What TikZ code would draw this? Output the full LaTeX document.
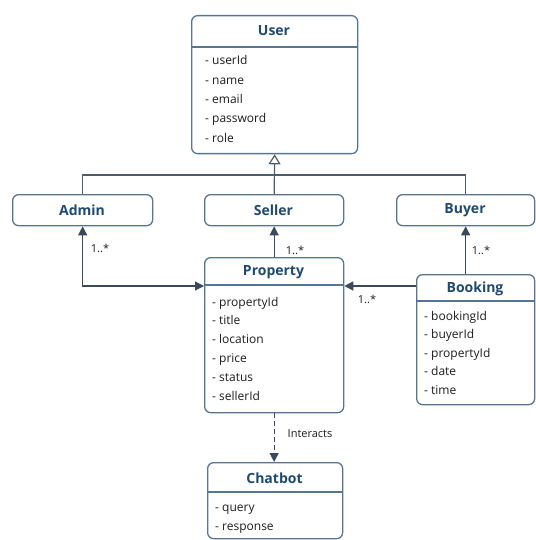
\documentclass[tikz,border=0pt]{standalone}
\usepackage{fontspec}
\setmainfont{Open Sans}
\usetikzlibrary{arrows.meta}
\definecolor{boxc}{HTML}{587591}
\definecolor{titlec}{HTML}{1F4A74}
\definecolor{arrc}{HTML}{3A4A5C}
\definecolor{txtc}{HTML}{1E1E1E}
\tikzset{
  cls/.style={draw=boxc, line width=1.3pt, rounded corners=6pt, fill=white, inner sep=0pt, anchor=north west},
  hline/.style={draw=boxc, line width=1.3pt},
  ttl/.style={font=\fontsize{14}{16}\selectfont\bfseries, text=titlec, inner sep=0pt},
  attr/.style={font=\fontsize{12}{14}\selectfont, text=txtc, anchor=base west, inner sep=0pt},
  lbl/.style={font=\fontsize{11}{13}\selectfont, text=txtc, inner sep=0pt},
  assoc/.style={draw=arrc, line width=1.3pt, -{Triangle[width=9pt,length=9pt]}},
  gen/.style={draw=arrc!90, line width=1.2pt},
}
\begin{document}
\begin{tikzpicture}[x=1pt,y=-1pt]
\useasboundingbox[fill=white] (0,0) rectangle (535,540);
% boxes
\node[cls, minimum width=166pt, minimum height=138pt] (user) at (191,15) {};
\node[cls, minimum width=140pt, minimum height=31pt] (admin) at (12,194) {};
\node[cls, minimum width=139pt, minimum height=31pt] (seller) at (204,194) {};
\node[cls, minimum width=138pt, minimum height=31pt] (buyer) at (396,194) {};
\node[cls, minimum width=139pt, minimum height=155pt] (property) at (204,257) {};
\node[cls, minimum width=118pt, minimum height=130pt] (booking) at (416,274) {};
\node[cls, minimum width=135pt, minimum height=76pt] (chatbot) at (207,462) {};
% header lines
\draw[hline] (user.west |- 0,47) -- (user.east |- 0,47);
\draw[hline] (property.west |- 0,285) -- (property.east |- 0,285);
\draw[hline] (booking.west |- 0,301) -- (booking.east |- 0,301);
\draw[hline] (chatbot.west |- 0,492) -- (chatbot.east |- 0,492);
% titles
\node[ttl] (user-t) at (274,31) {User};
\node[ttl] (admin-t) at (82,210) {Admin};
\node[ttl] (seller-t) at (273.5,210) {Seller};
\node[ttl] (buyer-t) at (465,210) {Buyer};
\node[ttl] (property-t) at (273.5,272) {Property};
\node[ttl] (booking-t) at (475,289) {Booking};
\node[ttl] (chatbot-t) at (274.5,478) {Chatbot};
% attributes
\foreach \t [count=\i] in {userId,name,email,password,role}
  \node[attr] (user-a\i) at (205,{65+19.3*(\i-1)}) {- \t};
\foreach \t [count=\i] in {propertyId,title,location,price,status,sellerId}
  \node[attr] (property-a\i) at (212,{306+18.8*(\i-1)}) {- \t};
\foreach \t [count=\i] in {bookingId,buyerId,propertyId,date,time}
  \node[attr] (booking-a\i) at (424,{320+18.5*(\i-1)}) {- \t};
\foreach \t [count=\i] in {query,response}
  \node[attr] (chatbot-a\i) at (215,{511+19*(\i-1)}) {- \t};
% generalization
\draw[gen] (admin.north) -- (admin.north |- 0,175) -- (buyer.north |- 0,175) -- (buyer.north);
\draw[gen, -{Triangle[open, fill=white, width=12pt, length=10pt]}] (seller.north) -- (user.south);
% associations
\draw[assoc, {Triangle[width=9pt,length=9pt]}-{Triangle[width=9pt,length=9pt]}] (admin.south) |- (property.west |- 0,286);
\draw[assoc] (property.north) -- (seller.south);
\draw[assoc] (booking.north -| buyer.south) -- (buyer.south);
\draw[assoc] (booking.west |- 0,286) -- (property.east |- 0,286);
\draw[assoc, dashed, dash pattern=on 5pt off 3pt, line width=1.2pt, -{Triangle[width=9pt,length=9pt]}] (property.south) -- (property.south |- chatbot.north);
% labels
\node[lbl] (l-admin) at (100,248) {1..*};
\node[lbl] (l-seller) at (295,250) {1..*};
\node[lbl] (l-buyer) at (481,250) {1..*};
\node[lbl] (l-booking) at (367,299) {1..*};
\node[lbl] (l-int) at (310,434) {Interacts};
\end{tikzpicture}
\end{document}
